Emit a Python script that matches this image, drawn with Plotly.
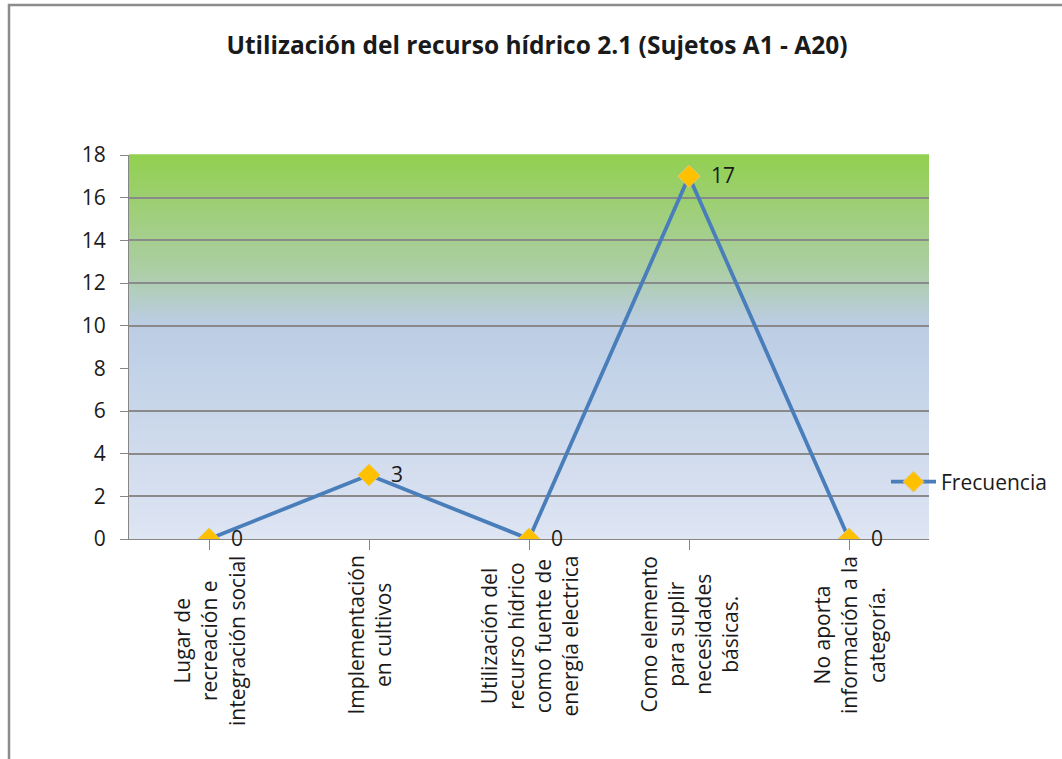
import plotly.graph_objects as go

categories = [
    "Lugar de<br>recreación e<br>integración social",
    "Implementación<br>en cultivos",
    "Utilización del<br>recurso hídrico<br>como fuente de<br>energía electrica",
    "Como elemento<br>para suplir<br>necesidades<br>básicas.",
    "No aporta<br>información a la<br>categoría.",
]
frecuencia = [0, 3, 0, 17, 0]
y_ticks = [0, 2, 4, 6, 8, 10, 12, 14, 16, 18]
grid_ticks = [0, 2, 4, 6, 10, 12, 14, 16, 18]

W, H = 1062, 759
ML, MR, MT, MB = 129, 133, 155, 220
PW, PH = W - ML - MR, H - MT - MB
FONT = "'Open Sans', Lato, sans-serif"
TXT = "#1a1a1a"

xs = list(range(len(categories)))

fig = go.Figure()
fig.add_trace(go.Scatter(
    x=xs, y=frecuencia, mode="lines+markers", name="Frecuencia",
    line=dict(color="#4A7EBB", width=3.8),
    marker=dict(symbol="diamond", size=17, color="#FFC000",
                line=dict(color="#E8C870", width=1)),
    hoverinfo="skip",
))
# invisible trace on overlay axis for gridlines
fig.add_trace(go.Scatter(x=[xs[0]], y=[0], yaxis="y2", mode="markers",
                         marker=dict(opacity=0), showlegend=False, hoverinfo="skip"))

# gradient background stripes
stops = [(0.0, (222, 229, 243)), (0.56, (187, 205, 228)), (0.70, (172, 206, 165)),
         (1.0, (146, 208, 80))]
def col(t):
    for (t0, c0), (t1, c1) in zip(stops[:-1], stops[1:]):
        if t0 <= t <= t1:
            f = (t - t0) / (t1 - t0)
            return "rgb(%d,%d,%d)" % tuple(round(a + (b - a) * f) for a, b in zip(c0, c1))
    return "rgb(%d,%d,%d)" % stops[-1][1]
N = 128
shapes = []
for i in range(N):
    shapes.append(dict(type="rect", xref="x domain", yref="y domain",
                       x0=0, x1=1, y0=i / N, y1=(i + 1) / N + 0.002,
                       fillcolor=col((i + 0.5) / N), line=dict(width=0), layer="below"))
# outer chart border (left and top)
bx0 = (9 - ML) / PW
by_top = (MT + PH - 5) / PH
by_bot = (MT + PH - H - 5) / PH
bx_right = (W - ML + 5) / PW
shapes.append(dict(type="path", xref="paper", yref="paper",
                   path=f"M {bx0},{by_bot} L {bx0},{by_top} L {bx_right},{by_top}",
                   line=dict(color="#8C8C8C", width=2.5)))

annotations = []
# data labels
for x, v in zip(xs, frecuencia):
    annotations.append(dict(x=x, y=v, xref="x", yref="y", text=str(v), showarrow=False,
                            xanchor="left", yanchor="middle", xshift=20, yshift=1,
                            font=dict(family=FONT, size=21, color=TXT)))
# category labels (rotated, centered lines)
for x, c in zip(xs, categories):
    annotations.append(dict(x=x, y=0, xref="x", yref="y", text=c, showarrow=False,
                            textangle=-90, xanchor="center", yanchor="top", yshift=-15,
                            align="center",
                            font=dict(family=FONT, size=21, color=TXT)))

fig.update_layout(
    width=W, height=H,
    margin=dict(l=ML, r=MR, t=MT, b=MB, autoexpand=False),
    paper_bgcolor="white", plot_bgcolor="rgba(0,0,0,0)",
    title=dict(text="<b>Utilización del recurso hídrico 2.1 (Sujetos A1 - A20)</b>",
               x=537 / W, xanchor="center", y=1 - 45 / H, yanchor="middle",
               yref="container", font=dict(family=FONT, size=24.5, color=TXT)),
    xaxis=dict(range=[-0.5, len(categories) - 0.5], tickvals=xs, showticklabels=False,
               ticks="outside", tickson="boundaries", ticklen=10, tickcolor="#868686",
               showline=True, linecolor="#868686", linewidth=1.2, showgrid=False,
               zeroline=False, fixedrange=True),
    yaxis=dict(range=[0, 18], tickvals=y_ticks, ticks="outside", ticklen=8,
               tickcolor="#868686", showline=True, linecolor="#868686", linewidth=1.2,
               showgrid=False, zeroline=False, ticklabelstandoff=10,
               tickfont=dict(family=FONT, size=21, color=TXT)),
    yaxis2=dict(range=[0, 18], overlaying="y", tickvals=grid_ticks, showticklabels=False,
                ticks="", showgrid=True, gridcolor="#8A8A8A", gridwidth=1.5,
                zeroline=False, showline=False),
    legend=dict(x=(886 - ML) / PW, xanchor="left", y=(MT + PH - 482) / PH,
                yanchor="middle", bgcolor="rgba(0,0,0,0)", itemwidth=45,
                font=dict(family=FONT, size=21, color=TXT)),
    shapes=shapes, annotations=annotations, showlegend=True,
)

fig.write_html("out.html", config={"displayModeBar": False},
               post_script="document.body.style.margin='0px';")
